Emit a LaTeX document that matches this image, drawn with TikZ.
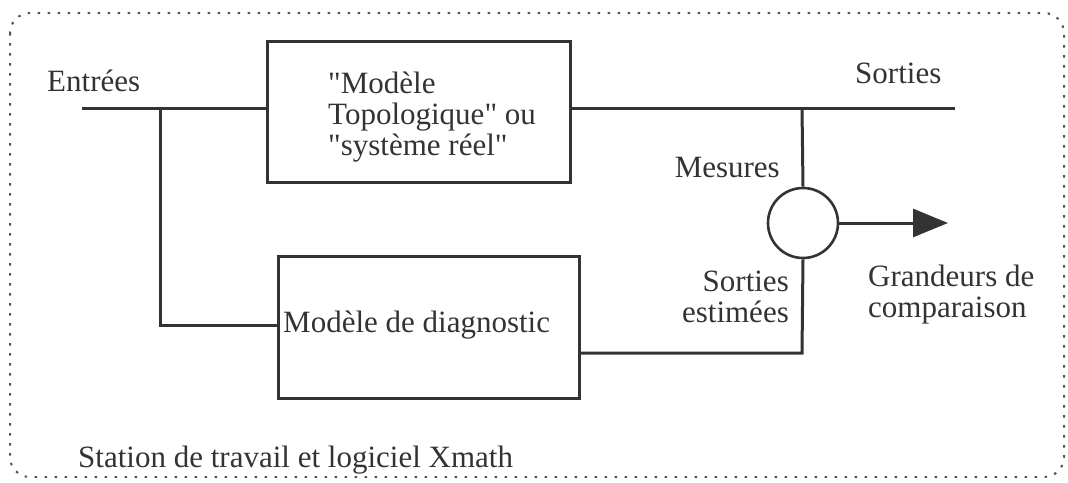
\documentclass[tikz,border=0pt]{standalone}
\usepackage{fontspec}
\setmainfont{Liberation Serif}
\usetikzlibrary{arrows.meta}
\definecolor{ink}{gray}{0.2}
\begin{document}
\begin{tikzpicture}[x=1pt,y=-1pt,
  wire/.style={draw=ink,line width=3pt},
  blockbox/.style={draw=ink,line width=3pt,inner sep=0pt},
  txt/.style={font=\fontsize{31}{31}\selectfont,text=ink,inner sep=0pt},
  frame/.style={draw=ink!85,line width=2pt,dash pattern=on 2.5pt off 7.5pt,rounded corners=20pt}]
\useasboundingbox (0,0) rectangle (1068,482);

% outer dotted frame
\draw[frame] (10,13) rectangle (1064,477);

% blocks
\node[blockbox,minimum width=303pt,minimum height=141pt] (topo) at (418.5,111.5) {};
\node[blockbox,minimum width=301pt,minimum height=142pt] (diag) at (428.5,327) {};
\node[draw=ink,line width=2.6pt,circle,minimum size=70pt,inner sep=0pt] (cmp) at (803,223) {};

% texts inside the blocks (base anchor = baseline of the last line)
\node[txt,anchor=base west,align=left] (topotxt) at (328,155)
  {\textquotedbl Modèle\\Topologique\textquotedbl{} ou\\\textquotedbl système réel\textquotedbl};
\node[txt,anchor=base west] (diagtxt) at (283,332) {Modèle de diagnostic};

% free labels
\node[txt,anchor=base west] (lin) at (47,91) {Entrées};
\node[txt,anchor=base west] (lout) at (855,83) {Sorties};
\node[txt,anchor=base east] (lmes) at (780,177) {Mesures};
\node[txt,anchor=base east,align=right] (lest) at (789,322) {Sorties\\estimées};
\node[txt,anchor=base west,align=left] (lgr) at (868,317) {Grandeurs de\\comparaison};
\node[txt,anchor=base west] (lst) at (78,467) {Station de travail et logiciel Xmath};

% connection points
\coordinate (in) at (82,108);
\coordinate (split) at (160,108);
\coordinate (out) at (955,108);
\coordinate (tap) at (802,108);
\coordinate (diagin) at (diag.west |- 0,325);
\coordinate (diagout) at (diag.east |- 0,353);
\coordinate (corner) at (802,353);
\coordinate (res) at (948,223);

% wiring
\draw[wire] (in) -- (topo.west |- in);
\draw[wire] (split) |- (diagin);
\draw[wire] (topo.east |- out) -- (out);
\draw[wire] (tap) -- (cmp.north);
\draw[wire] (diagout) -- (corner) -- (cmp.south);
\draw[wire,-{Triangle[length=35pt,width=28pt]}] (cmp.east) -- (res);
\end{tikzpicture}
\end{document}
